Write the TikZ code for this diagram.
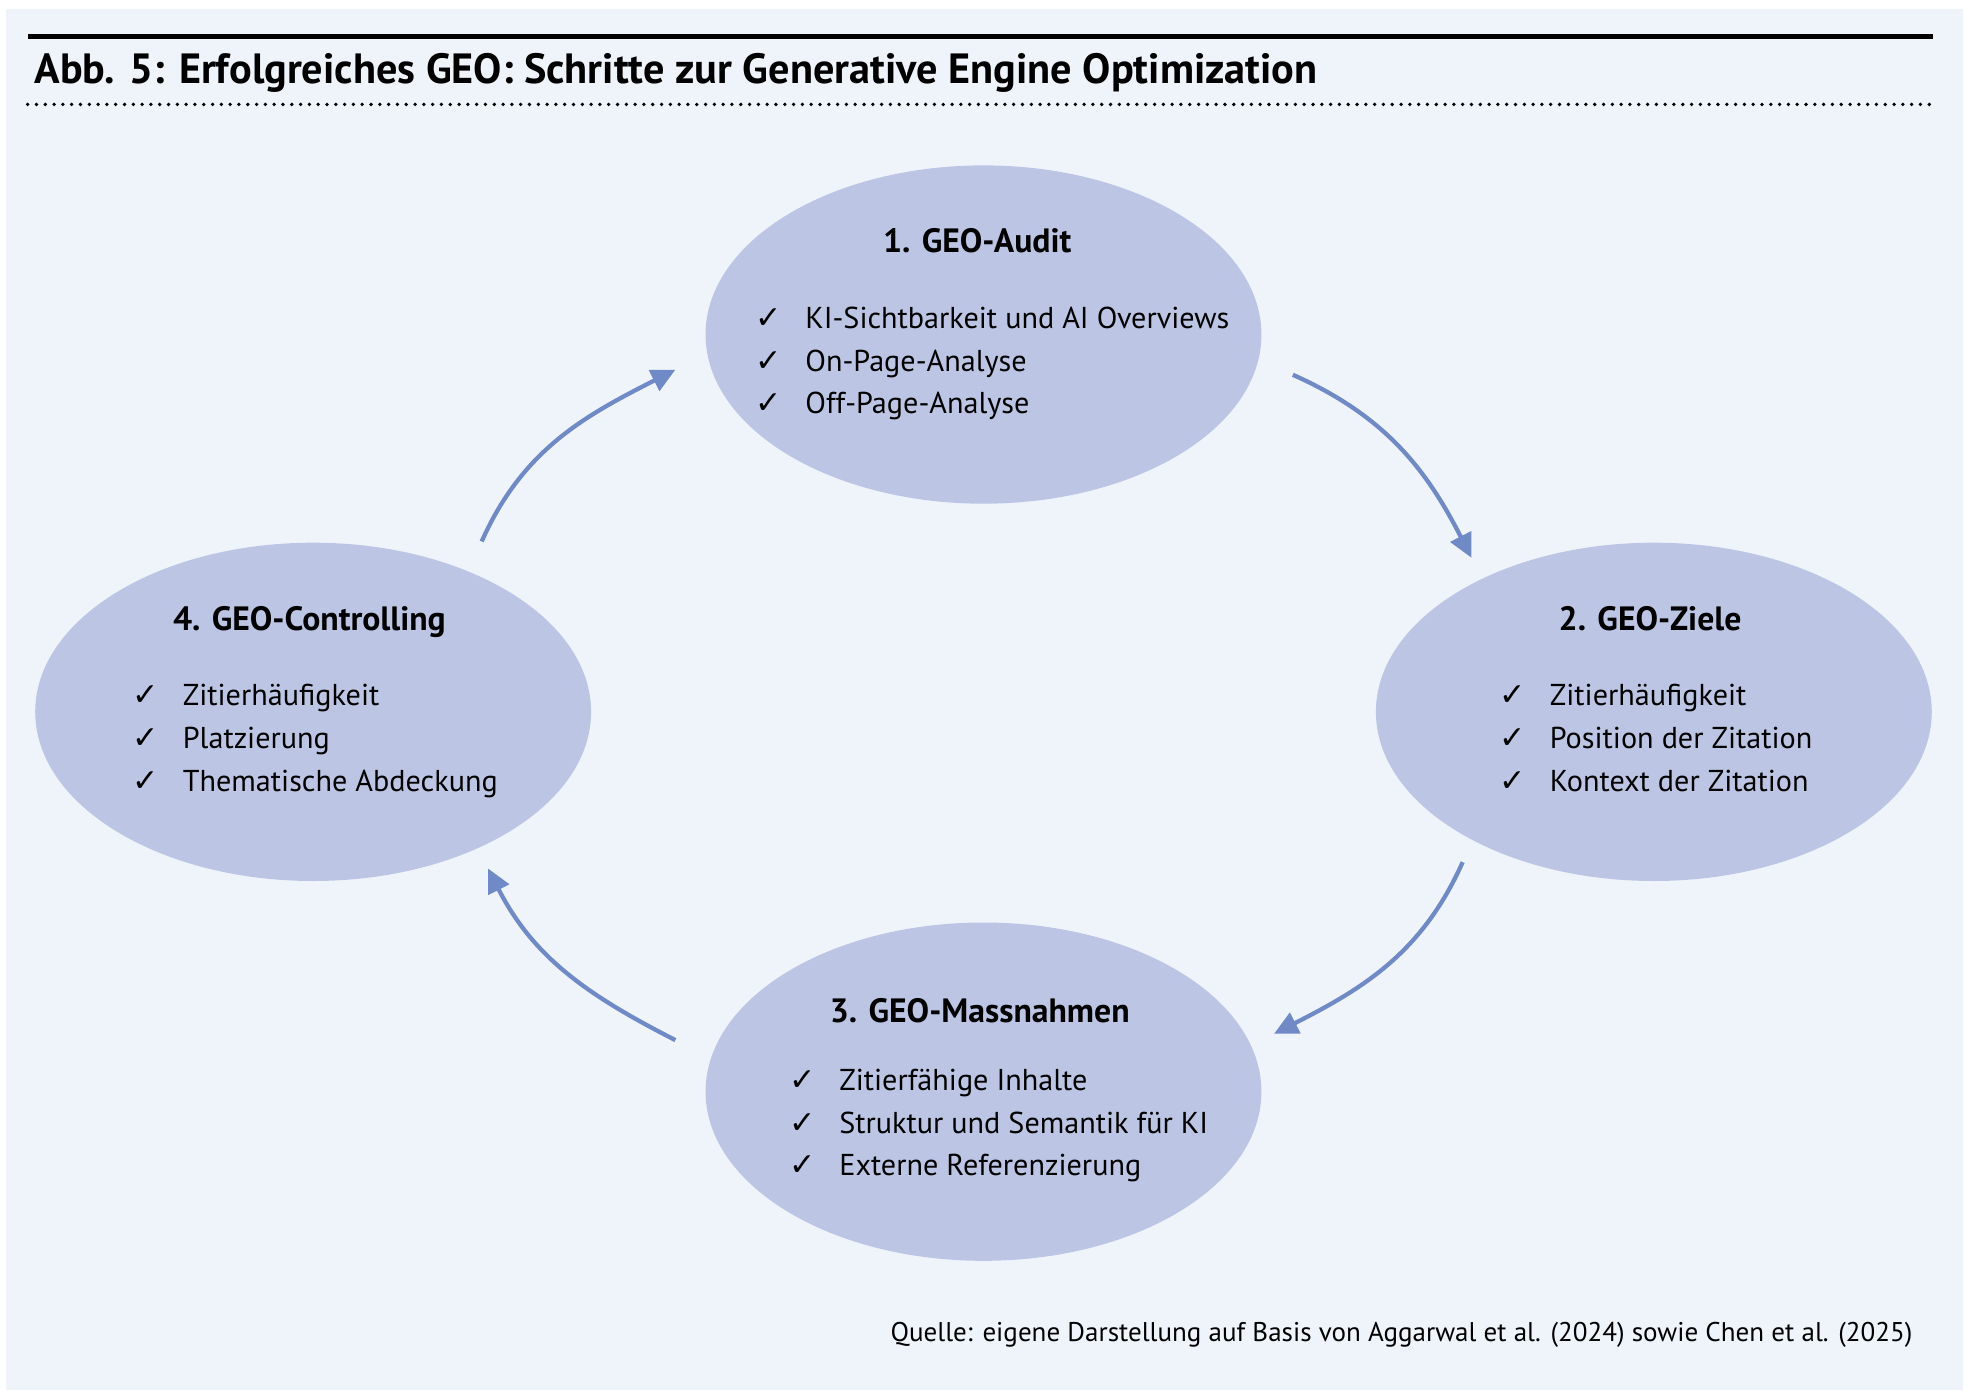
\documentclass[tikz,border=0pt]{standalone}
\usepackage{fontspec}
\setmainfont{PT Sans}
\newfontfamily\checkfont{DejaVu Sans}
\usetikzlibrary{shapes.geometric,arrows.meta,calc}

\definecolor{pagebg}{RGB}{239,244,251}
\definecolor{stepfill}{RGB}{188,198,228}
\definecolor{cyclearrow}{RGB}{112,138,200}

\newcommand{\chk}{\makebox[18pt][l]{\hspace{-2pt}\checkfont\fontsize{12.5}{12}\selectfont ✓}}

\tikzset{
  stepellipse/.style={ellipse,fill=stepfill,draw=none,inner sep=0pt,outer sep=0pt,
    minimum width=221pt,minimum height=134.5pt},
  steptitle/.style={anchor=base,inner sep=0pt,font=\bfseries\fontsize{13.4}{15}\selectfont},
  stepitem/.style={anchor=base west,inner sep=0pt,font=\fontsize{12}{15}\selectfont},
  cycle/.style={draw=cyclearrow,line width=1.7pt,-{Triangle[length=9.5pt,width=9pt]}}
}

\begin{document}
\begin{tikzpicture}[x=0.5pt,y=0.5pt,yscale=-1,xscale=1]
\path[use as bounding box] (0,0) rectangle (1568,1110);
\fill[pagebg] (5,7) rectangle (1561,1105);

%Header lines
\draw[line width=1.7pt] (22,29) -- (1537,29);
\draw[line width=1.5pt,line cap=round,dash pattern=on 0pt off 3.5pt] (22,83) -- (1537,83);

% Title
\draw (27,66) node [anchor=base west][inner sep=0pt] (title) {\bfseries\fontsize{16.8}{19}\selectfont Abb. 5: Erfolgreiches GEO: Schritte zur Generative Engine Optimization};

%Ellipses
\node[stepellipse] (audit) at (782,266) {};
\node[stepellipse] (ziele) at (1315,566) {};
\node[stepellipse] (massnahmen) at (782,868) {};
\node[stepellipse] (controlling) at (249,566) {};

% Text Node
\draw (777,201) node [steptitle] (audittitle) {1. GEO-Audit};
\draw (604,261) node [stepitem] (audit1) {\chk KI-Sichtbarkeit und AI Overviews};
\draw (604,295) node [stepitem] (audit2) {\chk On-Page-Analyse};
\draw (604,329) node [stepitem] (audit3) {\chk Off-Page-Analyse};
% Text Node
\draw (1312,501) node [steptitle] (zieletitle) {2. GEO-Ziele};
\draw (1196,561) node [stepitem] (ziele1) {\chk Zitierhäufigkeit};
\draw (1196,595) node [stepitem] (ziele2) {\chk Position der Zitation};
\draw (1196,629) node [stepitem] (ziele3) {\chk Kontext der Zitation};
% Text Node
\draw (779,813) node [steptitle] (massnahmentitle) {3. GEO-Massnahmen};
\draw (631,867) node [stepitem] (massnahmen1) {\chk Zitierfähige Inhalte};
\draw (631,901) node [stepitem] (massnahmen2) {\chk Struktur und Semantik für KI};
\draw (631,935) node [stepitem] (massnahmen3) {\chk Externe Referenzierung};
% Text Node
\draw (246,501) node [steptitle] (controllingtitle) {4. GEO-Controlling};
\draw (109,561) node [stepitem] (controlling1) {\chk Zitierhäufigkeit};
\draw (109,595) node [stepitem] (controlling2) {\chk Platzierung};
\draw (109,629) node [stepitem] (controlling3) {\chk Thematische Abdeckung};

%Curved arrows
\draw[cycle] ($(audit.east)+(25,32)$) to[out=24,in=-117] ($(ziele.north)+(-145,12)$);
\draw[cycle] ($(ziele.south)+(-152,-15)$) to[out=114,in=-27] ($(massnahmen.east)+(10,-46)$);
\draw[cycle] ($(massnahmen.west)+(-24,-41)$) to[out=207,in=63] ($(controlling.south)+(139,-10)$);
\draw[cycle] ($(controlling.north)+(134,-1)$) to[out=-66,in=153] ($(audit.west)+(-24,28)$);

% Source
\draw (1521,1067) node [anchor=base east][inner sep=0pt] (source) {\fontsize{10.75}{12}\selectfont Quelle: eigene Darstellung auf Basis von Aggarwal et al. (2024) sowie Chen et al. (2025)};

\end{tikzpicture}
\end{document}
